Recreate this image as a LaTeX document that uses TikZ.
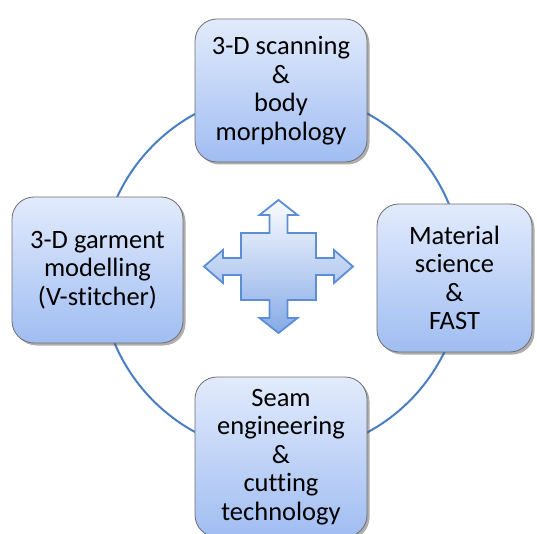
\documentclass[tikz,border=0pt]{standalone}
\usepackage{fontspec}
\setmainfont{Carlito}[Ligatures=NoCommon]
\usetikzlibrary{shadows}
\definecolor{boxtop}{HTML}{E2EBFC}
\definecolor{boxbot}{HTML}{A0BDF2}
\definecolor{boxline}{HTML}{6E6E6E}
\definecolor{ringcol}{HTML}{4A7EC2}
\definecolor{crossline}{HTML}{5B8ED6}
\definecolor{crosstop}{HTML}{FAFCFF}
\definecolor{crossbot}{HTML}{86AAE6}
\tikzset{
  topicbox/.style={draw=boxline, line width=0.8pt, rounded corners=22pt,
    top color=boxtop, bottom color=boxbot, align=center, inner sep=0pt,
    font=\fontsize{26.5}{28.5}\selectfont,
    drop shadow={shadow xshift=2.5pt, shadow yshift=-2.5pt, opacity=0.45, fill=black!70}},
  ring/.style={draw=ringcol, line width=2pt},
  crossshape/.style={draw=crossline, line width=1.8pt, line join=miter,
    top color=crosstop, bottom color=crossbot}
}
\begin{document}
\begin{tikzpicture}[x=1pt,y=1pt]
\useasboundingbox (0,0) rectangle (537,533);
\fill[white] (0,0) rectangle (537,533);
% ring
\draw[ring] (281.5,260) circle (181);
% boxes
\node[topicbox, minimum width=172pt, minimum height=143pt] (scan) at (281,442.5)
  {3-D scanning\\\&\\body\\morphology};
\node[topicbox, minimum width=171pt, minimum height=146pt] (garment) at (97.5,263)
  {3-D garment\\modelling\\(V-stitcher)};
\node[topicbox, minimum width=155pt, minimum height=148pt] (material) at (454.5,255)
  {Material\\science\\\&\\FAST};
\node[topicbox, minimum width=172pt, minimum height=160pt] (seam) at (281,76)
  {Seam\\engineering\\\&\\cutting\\technology};
% cross arrow
\coordinate (c) at (278.5,266.5);
\draw[crossshape, shift={(c)}]
  (0,66.5) -- (19,51.5) -- (9,51.5) -- (9,33.5) -- (37.5,33.5) -- (37.5,8.5)
  -- (55.5,8.5) -- (55.5,16.5) -- (74.5,0) -- (55.5,-16.5) -- (55.5,-8.5)
  -- (37.5,-8.5) -- (37.5,-33.5) -- (9,-33.5) -- (9,-51.5) -- (19,-51.5)
  -- (0,-66.5) -- (-19,-51.5) -- (-9,-51.5) -- (-9,-33.5) -- (-37.5,-33.5)
  -- (-37.5,-8.5) -- (-55.5,-8.5) -- (-55.5,-16.5) -- (-74.5,0) -- (-55.5,16.5)
  -- (-55.5,8.5) -- (-37.5,8.5) -- (-37.5,33.5) -- (-9,33.5) -- (-9,51.5)
  -- (-19,51.5) -- cycle;
\end{tikzpicture}
\end{document}
